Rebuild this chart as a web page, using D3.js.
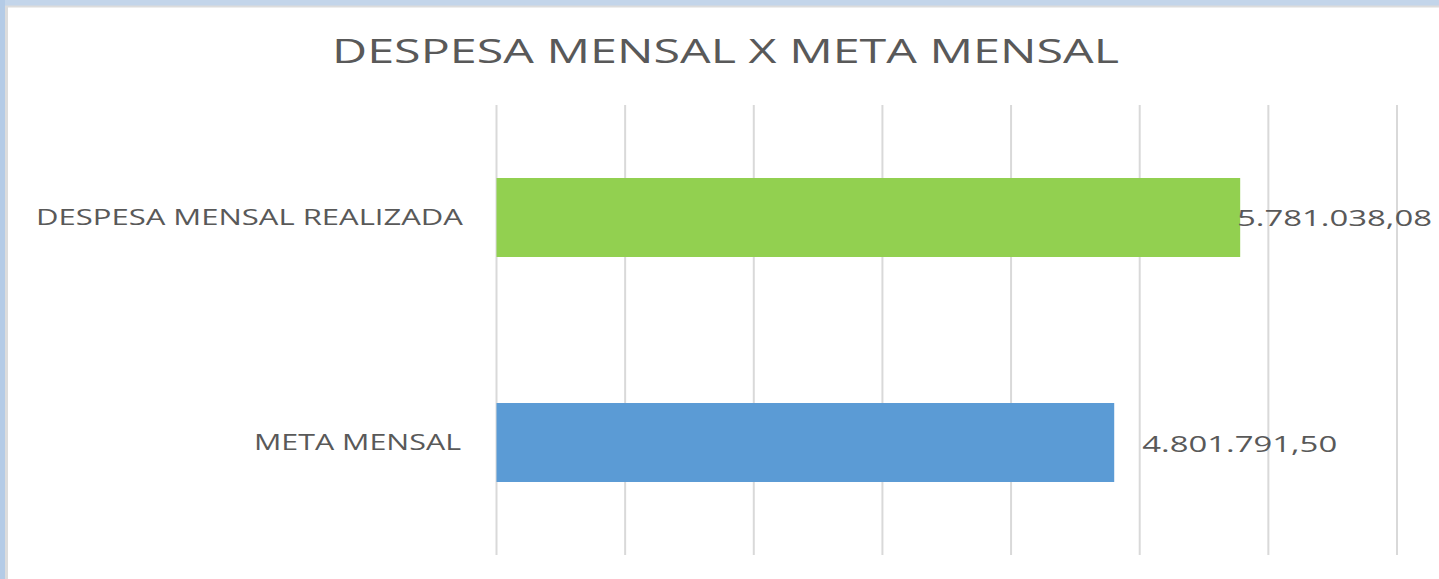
<!DOCTYPE html>
<html>
<head>
<meta charset="utf-8">
<script src="https://cdn.jsdelivr.net/npm/d3@7"></script>
<style>
  html, body { margin: 0; padding: 0; background: #ffffff; }
  svg { display: block; }
  text { font-family: "Open Sans", "DejaVu Sans", sans-serif; fill: #595959; }
</style>
</head>
<body>
<svg id="chart" width="1439" height="579"></svg>
<script>
// ---- data ----
const title = "DESPESA MENSAL X META MENSAL";
const categories = ["DESPESA MENSAL REALIZADA", "META MENSAL"];
const values = [5781038.08, 4801791.50];
const valueLabels = ["5.781.038,08", "4.801.791,50"];
const barColors = ["#92d050", "#5b9bd5"];
const xTicks = [0, 1000000, 2000000, 3000000, 4000000, 5000000, 6000000, 7000000];

// ---- layout ----
const W = 1439, H = 579;
const plot = { left: 496.5, right: 1397, top: 105, bottom: 555 };
const svg = d3.select("#chart");

// frame (window border)
svg.append("rect").attr("x", 0).attr("y", 0).attr("width", W).attr("height", 6).attr("fill", "#c3d5ea");
svg.append("rect").attr("x", 0).attr("y", 0).attr("width", 5).attr("height", H).attr("fill", "#b4cbe6");
svg.append("rect").attr("x", 5).attr("y", 5.5).attr("width", W - 5).attr("height", 2).attr("fill", "#dcdcdc");
svg.append("rect").attr("x", 5).attr("y", 6).attr("width", 3).attr("height", H - 6).attr("fill", "#dcdcdc");

const x = d3.scaleLinear().domain([0, 7000000]).range([plot.left, plot.right]);
const y = d3.scaleBand().domain(categories).range([plot.top, plot.bottom]).paddingInner(0.649).paddingOuter(0.3245);

// gridlines
svg.append("g").selectAll("line").data(xTicks).join("line")
  .attr("x1", d => x(d)).attr("x2", d => x(d))
  .attr("y1", plot.top).attr("y2", plot.bottom)
  .attr("stroke", "#d9d9d9").attr("stroke-width", 2);

// bars
svg.append("g").selectAll("rect").data(categories).join("rect")
  .attr("x", x(0)).attr("y", d => y(d))
  .attr("width", (d, i) => x(values[i]) - x(0))
  .attr("height", y.bandwidth())
  .attr("fill", (d, i) => barColors[i]);

// category labels
const catWidths = [427, 207];
const catEnds = [463, 461];
svg.append("g").selectAll("text").data(categories).join("text")
  .attr("x", (d, i) => catEnds[i]).attr("y", d => y(d) + y.bandwidth() / 2 + 7)
  .attr("text-anchor", "end").attr("font-size", 21)
  .attr("textLength", (d, i) => catWidths[i]).attr("lengthAdjust", "spacingAndGlyphs")
  .text(d => d);

// value labels
const valW = 195;
svg.append("g").selectAll("text").data(categories).join("text")
  .attr("x", (d, i) => Math.min(x(values[i]) + 28, W - 7 - valW))
  .attr("y", (d, i) => y(d) + y.bandwidth() / 2 + 8 + i * 1.5)
  .attr("font-size", 21)
  .attr("textLength", valW).attr("lengthAdjust", "spacingAndGlyphs")
  .text((d, i) => valueLabels[i]);

// title
svg.append("text").attr("x", 725.5).attr("y", 63)
  .attr("text-anchor", "middle").attr("font-size", 32)
  .attr("textLength", 787).attr("lengthAdjust", "spacingAndGlyphs")
  .text(title);
</script>
</body>
</html>
